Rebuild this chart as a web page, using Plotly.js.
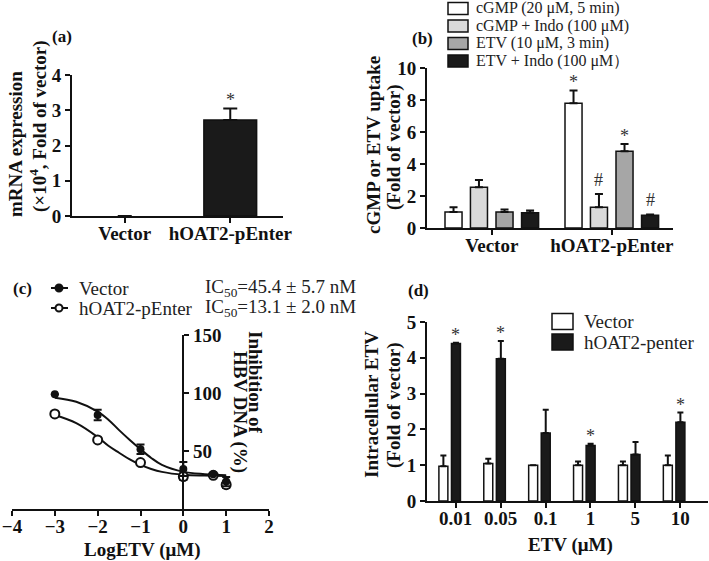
<!DOCTYPE html>
<html>
<head>
<meta charset="utf-8">
<script src="https://cdn.plot.ly/plotly-3.0.1.min.js"></script>
<style>html,body{margin:0;padding:0;background:#fff;}#chart{width:709px;height:561px;}</style>
</head>
<body>
<div id="chart"></div>
<script>
// ---------- DATA ----------
// Panel (a)
const catsA = ['Vector', 'hOAT2-pEnter'];
const mrnaMean = [0.0001, 2.72];
const mrnaSem = [null, 0.33];

// Panel (b)
const catsB = ['Vector', 'hOAT2-pEnter'];
const namesB = ['cGMP (20 μM, 5 min)', 'cGMP + Indo (100 μM)', 'ETV (10 μM, 3 min)', 'ETV + Indo (100 μM）'];
const cgmpMean = [1.0, 7.8];
const cgmpSem = [0.3, 0.8];
const cgmpIndoMean = [2.55, 1.3];
const cgmpIndoSem = [0.45, 0.82];
const etvMean = [1.0, 4.8];
const etvSem = [0.15, 0.45];
const etvIndoMean = [0.95, 0.8];
const etvIndoSem = [0.15, 0.05];
const sigB = ['*', '#', '*', '#'];   // marks over hOAT2-pEnter bars

// Panel (c)
const logEtv = [-3, -2, -1, 0, 0.699, 1];
const inhVector = [99, 81, 51.5, 34.5, 30, 23.6];
const inhVectorSem = [0, 4.5, 4, 6, 0, 4];
const inhHoat = [82, 59.5, 40, 28, 29, 21];
const inhHoatSem = [2, 0, 0, 3, 0, 3];
const fitX = [-3, -2.5, -2, -1.75, -1.5, -1.25, -1, -0.75, -0.5, 0, 0.5, 1];
const fitVector = [96, 92.5, 84, 77, 68, 59.5, 51.5, 44, 38, 32, 30, 29];
const fitHoat = [81, 74, 62, 54.5, 48.5, 42.7, 38, 34.5, 32, 29.5, 28.8, 28.5];
const namesC = ['Vector', 'hOAT2-pEnter'];
const ic50C = ['IC<sub>50</sub>=45.4 ± 5.7 nM', 'IC<sub>50</sub>=13.1 ± 2.0 nM'];

// Panel (d)
const catsD = ['0.01', '0.05', '0.1', '1', '5', '10'];
const namesD = ['Vector', 'hOAT2-penter'];
const dVector = [0.97, 1.05, 1.0, 1.0, 1.0, 1.0];
const dVectorSem = [0.3, 0.13, 0, 0.1, 0.1, 0.27];
const dHoat = [4.4, 3.97, 1.9, 1.55, 1.3, 2.2];
const dHoatSem = [0.02, 0.5, 0.65, 0.05, 0.35, 0.27];
const sigD = ['*', '*', '', '*', '', '*'];

// ---------- STYLE / HELPERS ----------
const W = 709, H = 561;
const FF = '"Liberation Serif", "Times New Roman", serif';
const px = x => x / W;
const py = y => 1 - y / H;
const tickFont = {family: FF, size: 19, color: '#111', weight: 'bold'};
const axBase = {
  showline: true, linewidth: 2, linecolor: '#111', ticks: 'outside', ticklen: 5,
  tickwidth: 2, tickcolor: '#111', showgrid: false, zeroline: false, tickfont: tickFont,
  fixedrange: true, ticklabeloverflow: 'allow'
};
const xBase = Object.assign({}, axBase, {ticklabelstandoff: -6});
const barLine = {color: '#111', width: 1.5};
const errStyle = (arr, w) => ({type: 'data', symmetric: false, array: arr,
  arrayminus: arr.map(() => 0), color: '#111', thickness: 2, width: w});

const traces = [];
// (a)
traces.push({type: 'bar', x: catsA, y: mrnaMean, xaxis: 'x', yaxis: 'y', width: 0.5,
  marker: {color: '#1a1a1a', line: {color: '#111', width: [0, 1.5]}},
  error_y: errStyle(mrnaSem, 7), hoverinfo: 'none'});

// (b)
const colorsB = ['#ffffff', '#d9d9d9', '#a6a6a6', '#1a1a1a'];
const meansB = [cgmpMean, cgmpIndoMean, etvMean, etvIndoMean];
const semsB = [cgmpSem, cgmpIndoSem, etvSem, etvIndoSem];
const offB = [-0.39, -0.178, 0.035, 0.248];
const wB = 0.142;
for (let i = 0; i < 4; i++) {
  traces.push({type: 'bar', x: catsB, y: meansB[i], xaxis: 'x2', yaxis: 'y2', name: namesB[i],
    width: wB, offset: offB[i], marker: {color: colorsB[i], line: barLine},
    error_y: errStyle(semsB[i], 4), hoverinfo: 'none'});
}

// (c)
traces.push({type: 'scatter', mode: 'lines', x: fitX, y: fitVector, xaxis: 'x3', yaxis: 'y3',
  line: {color: '#111', width: 2, shape: 'spline', smoothing: 1}, hoverinfo: 'none'});
traces.push({type: 'scatter', mode: 'lines', x: fitX, y: fitHoat, xaxis: 'x3', yaxis: 'y3',
  line: {color: '#111', width: 2, shape: 'spline', smoothing: 1}, hoverinfo: 'none'});
traces.push({type: 'scatter', mode: 'markers', x: logEtv, y: inhHoat, xaxis: 'x3', yaxis: 'y3',
  marker: {symbol: 'circle', size: 9, color: '#fff', line: {color: '#111', width: 2}},
  error_y: {type: 'data', array: inhHoatSem, color: '#111', thickness: 2, width: 4}, hoverinfo: 'none'});
traces.push({type: 'scatter', mode: 'markers', x: logEtv, y: inhVector, xaxis: 'x3', yaxis: 'y3',
  marker: {symbol: 'circle', size: 8, color: '#111'},
  error_y: {type: 'data', array: inhVectorSem, color: '#111', thickness: 2, width: 4}, hoverinfo: 'none'});

// (d)
traces.push({type: 'bar', x: catsD, y: dVector, xaxis: 'x4', yaxis: 'y4', name: namesD[0],
  width: 0.2, offset: -0.375, marker: {color: '#fff', line: barLine},
  error_y: errStyle(dVectorSem, 3), hoverinfo: 'none'});
traces.push({type: 'bar', x: catsD, y: dHoat, xaxis: 'x4', yaxis: 'y4', name: namesD[1],
  width: 0.2, offset: -0.095, marker: {color: '#1a1a1a', line: barLine},
  error_y: errStyle(dHoatSem, 3), hoverinfo: 'none'});

// ---------- ANNOTATIONS / SHAPES ----------
const ann = [];
const shapes = [];
const txt = (t, x, y, o) => Object.assign({text: t, x: px(x), y: py(y), xref: 'paper', yref: 'paper',
  showarrow: false, xanchor: 'center', yanchor: 'middle',
  font: {family: FF, size: 19, color: '#111', weight: 'bold'}}, o || {});
const lblFont = {family: FF, size: 17, color: '#111', weight: 'bold'};

// panel labels
ann.push(txt('(a)', 62, 37, {font: lblFont}));
ann.push(txt('(b)', 422, 38, {font: lblFont}));
ann.push(txt('(c)', 22, 288, {font: lblFont}));
ann.push(txt('(d)', 418, 290, {font: lblFont}));

// axis titles
ann.push(txt('mRNA expression', 15, 144, {textangle: -90}));
ann.push(txt('(×10<sup>4</sup>, Fold of vector)', 38, 126, {textangle: -90}));
ann.push(txt('cGMP or ETV uptake', 373, 145, {textangle: -90}));
ann.push(txt('(Fold of vector)', 394, 147, {textangle: -90}));
ann.push(txt('Inhibition of', 256, 382, {textangle: 90}));
ann.push(txt('HBV DNA (%)', 240, 412, {textangle: 90}));
ann.push(txt('LogETV (μM)', 142, 550));
ann.push(txt('Intracellular ETV', 371, 405, {textangle: -90}));
ann.push(txt('(Fold of vector)', 394, 405, {textangle: -90}));
ann.push(txt('ETV (μM)', 570, 545));

// significance marks
const sigFont = {family: FF, size: 18, color: '#333'};
ann.push({text: '*', x: 1, y: mrnaMean[1] + mrnaSem[1], xref: 'x', yref: 'y', showarrow: false,
  yanchor: 'bottom', yshift: -4, font: sigFont});
for (let i = 0; i < 4; i++) {
  ann.push({text: sigB[i], x: 1 + offB[i] + wB / 2, y: meansB[i][1] + semsB[i][1], xref: 'x2', yref: 'y2',
    showarrow: false, yanchor: 'bottom', yshift: sigB[i] === '*' ? -4 : 2, font: sigFont});
}
for (let i = 0; i < catsD.length; i++) {
  if (!sigD[i]) continue;
  ann.push({text: sigD[i], x: i + 0.005, y: dHoat[i] + dHoatSem[i], xref: 'x4', yref: 'y4',
    showarrow: false, yanchor: 'bottom', yshift: -4, font: sigFont});
}

// legend (b)
const legBy = [8.5, 26, 43.5, 61];
for (let i = 0; i < 4; i++) {
  shapes.push({type: 'rect', xref: 'paper', yref: 'paper', x0: px(448), x1: px(468),
    y0: py(legBy[i] - 6), y1: py(legBy[i] + 6), fillcolor: colorsB[i], line: barLine});
  ann.push(txt(namesB[i], 474, legBy[i], {xanchor: 'left',
    font: {family: FF, size: 16, color: '#222'}}));
}
// legend (c)
const legCy = [288, 308];
for (let i = 0; i < 2; i++) {
  shapes.push({type: 'line', xref: 'paper', yref: 'paper', x0: px(51), x1: px(68),
    y0: py(legCy[i]), y1: py(legCy[i]), line: {color: '#111', width: 2}});
  shapes.push({type: 'circle', xref: 'paper', yref: 'paper', x0: px(55.5), x1: px(62.5),
    y0: py(legCy[i] - 3.5), y1: py(legCy[i] + 3.5), fillcolor: i === 0 ? '#111' : '#fff',
    line: {color: '#111', width: 2}});
  ann.push(txt(namesC[i], 77, legCy[i], {xanchor: 'left', font: {family: FF, size: 19, color: '#222'}}));
  ann.push(txt(ic50C[i], 203, legCy[i], {xanchor: 'left', font: {family: FF, size: 19, color: '#222'}}));
}
// legend (d)
const legDy = [321.5, 342];
const colorsD = ['#fff', '#1a1a1a'];
for (let i = 0; i < 2; i++) {
  shapes.push({type: 'rect', xref: 'paper', yref: 'paper', x0: px(552), x1: px(573),
    y0: py(legDy[i] - 8), y1: py(legDy[i] + 8), fillcolor: colorsD[i], line: barLine});
  ann.push(txt(namesD[i], 582, legDy[i], {xanchor: 'left', font: {family: FF, size: 19, color: '#222'}}));
}

// ---------- LAYOUT ----------
const layout = {
  width: W, height: H, autosize: false,
  margin: {l: 0, r: 0, t: 0, b: 0, pad: 0},
  paper_bgcolor: '#fff', plot_bgcolor: 'rgba(0,0,0,0)',
  showlegend: false, barmode: 'overlay',
  font: {family: FF, color: '#111'},
  xaxis: Object.assign({}, xBase, {domain: [px(72), px(283)], anchor: 'y', type: 'category',
    categoryarray: catsA, range: [-0.5, 1.5]}),
  yaxis: Object.assign({}, axBase, {domain: [py(216), py(75)], anchor: 'x', range: [0, 4], dtick: 1}),
  xaxis2: Object.assign({}, xBase, {domain: [px(427), px(673)], anchor: 'y2', type: 'category',
    categoryarray: catsB, range: [-0.54, 1.51]}),
  yaxis2: Object.assign({}, axBase, {domain: [py(228), py(68)], anchor: 'x2', range: [0, 10], dtick: 2}),
  xaxis3: Object.assign({}, xBase, {domain: [px(12), px(269)], anchor: 'y3', range: [-4, 2], dtick: 1}),
  yaxis3: Object.assign({}, axBase, {domain: [py(509), py(335)], anchor: 'free', position: px(183.3),
    side: 'right', range: [0, 150], tickvals: [50, 100, 150]}),
  xaxis4: Object.assign({}, xBase, {domain: [px(427), px(708)], anchor: 'y4', type: 'category',
    categoryarray: catsD, range: [-0.64, 5.62]}),
  yaxis4: Object.assign({}, axBase, {domain: [py(501), py(322)], anchor: 'x4', range: [0, 5], dtick: 1}),
  annotations: ann,
  shapes: shapes
};

Plotly.newPlot('chart', traces, layout, {displayModeBar: false, staticPlot: true});
</script>
</body>
</html>
